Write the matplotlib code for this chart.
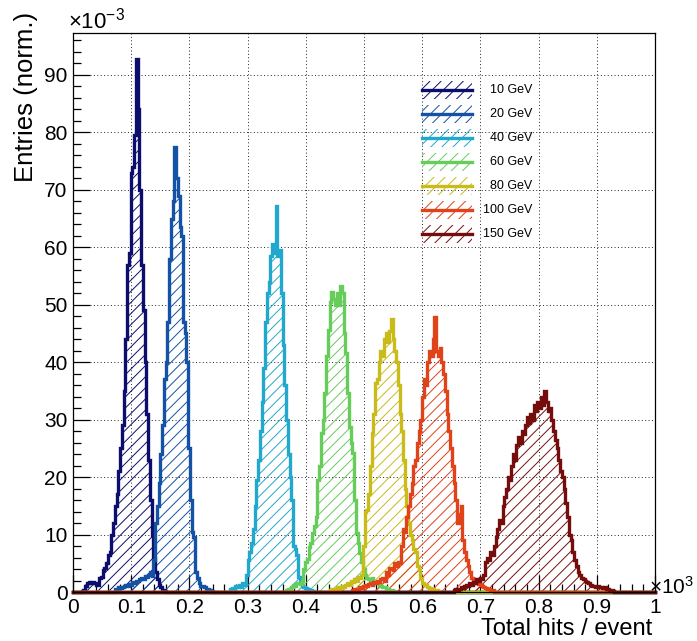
import numpy as np
import matplotlib
matplotlib.use("Agg")
import matplotlib.pyplot as plt
from matplotlib.patches import Rectangle
from matplotlib.lines import Line2D

plt.rcParams['font.family'] = ['Liberation Sans', 'DejaVu Sans']
plt.rcParams['mathtext.fontset'] = 'custom'
plt.rcParams['mathtext.rm'] = 'Liberation Sans'
plt.rcParams['mathtext.it'] = 'Liberation Sans:italic'
plt.rcParams['hatch.linewidth'] = 0.7

# ---- histogram data (x in units of 10^3 hits, y in units of 10^-3) ----
bin_width = 0.003

labels = ["10 GeV", "20 GeV", "40 GeV", "60 GeV", "80 GeV", "100 GeV", "150 GeV"]
colors = ["#0d0d6b", "#1452a6", "#22a8cc", "#66cc5a", "#c9bb1a", "#e0421a", "#750d0d"]

first_edge = [0.015, 0.072, 0.270, 0.366, 0.441, 0.480, 0.654]

h10 = [0.2, 0.4, 1.0, 1.5, 1.7, 1.6, 1.8, 1.5, 1.2, 1.2,
       2.4, 2.6, 3.8, 4.2, 5.0, 6.5, 7.0, 10, 12, 15,
       17, 21, 25, 29, 35, 44, 57, 59, 73, 74,
       79.5, 92.7, 84, 70, 57, 49, 40, 31, 23, 16,
       10, 6, 3.5, 2.2, 1.3, 0.8, 0.4, 0.2]
h20 = [0.5, 0.6, 0.8, 0.7, 0.9, 1.0, 1.2, 1.1, 1.4, 1.3,
       1.8, 1.6, 2.0, 1.9, 2.2, 2.4, 2.2, 2.8, 2.6, 3.0,
       3.4, 2.8, 5.5, 12, 15, 19, 24, 29, 37, 40,
       47, 58, 65, 68, 77.5, 72, 69, 63.5, 62, 47,
       45, 40, 25, 16, 10.5, 9.5, 3.5, 2.4, 1.6, 1.0,
       1.0, 0.8, 0.6, 0.5, 0.3, 0.2]
h40 = [0.5, 0.7, 0.6, 1.0, 0.8, 1.2, 0.9, 1.5, 1.3, 3.0,
       5.5, 7.0, 8.5, 11, 15, 19.5, 23, 28, 33, 39,
       47, 52, 54, 58.5, 60.5, 59, 67.2, 58.5, 59.5, 52,
       43, 36, 30, 24, 20, 16, 8, 7.5, 6.5, 2.6,
       1.5, 1.0, 0.9, 0.7, 0.6, 0.4, 0.3, 0.2]
h60 = [0.4, 0.6, 0.5, 0.9, 1.2, 1.0, 1.5, 1.6, 1.4, 2.0,
       4.0, 5.2, 5.8, 7.9, 8.5, 10.3, 11.5, 13, 19.5, 22,
       27.7, 30, 34.6, 41, 45.6, 50.5, 52.3, 51, 50, 52,
       50, 53.3, 52, 45, 41.6, 34.6, 28.7, 26, 24.2, 16,
       10.3, 8.5, 6.8, 5.2, 4.0, 3.0, 2.5, 2.2, 2.0, 2.4,
       1.8, 1.5, 1.6, 1.2, 1.0, 0.9, 0.8, 0.6, 0.5, 0.4, 0.3, 0.2]
h80 = [0.3, 0.5, 0.4, 0.6, 0.8, 0.6, 0.9, 1.0, 0.8, 1.2,
       1.5, 1.3, 2.0, 1.8, 2.3, 2.0, 2.6, 2.4, 3.0, 8,
       14, 14.3, 17, 22, 27.7, 31, 36.4, 37, 40, 42,
       41, 44, 45, 43.5, 45.5, 47.5, 44, 42, 40, 36,
       31, 28, 23, 18, 15, 12, 10, 9, 7.5, 7,
       4.5, 3.8, 2.5, 1.5, 1.3, 1.2, 0.9, 0.7, 0.6, 0.5, 0.4, 0.3]
h100 = [0.3, 0.5, 0.6, 0.5, 0.8, 0.7, 1.0, 1.2, 1.0, 1.4,
        1.6, 1.3, 1.8, 1.5, 2.0, 1.8, 2.2, 2.4, 2.0, 3.5,
        3.0, 4.2, 4.0, 3.8, 5.0, 4.6, 5.2, 5.0, 8, 11,
        10.5, 13, 15, 17, 19, 22, 23, 26, 28, 30,
        34, 37, 36, 40, 42, 41, 44, 47.8, 42, 41,
        42.5, 40, 38, 35, 31, 28, 25, 22, 19, 16,
        12, 13.5, 15, 9, 7, 5.5, 4.5, 3.5, 2.5, 2.2,
        1.8, 1.6, 1.4, 1.2, 1.0, 0.9, 0.7, 0.6, 0.5, 0.4, 0.3]
h150 = [0.3, 0.5, 0.4, 0.6, 0.8, 0.7, 1.0, 1.2, 1.0, 1.5,
        1.3, 1.8, 1.6, 2.2, 2.0, 2.4, 2.2, 3.0, 5.3, 6.0,
        5.5, 7.0, 6.5, 8.0, 9.5, 11, 12.5, 12, 15, 16.5,
        18, 20, 19.5, 22, 24, 23, 25.5, 27, 26, 28,
        27.5, 29, 30.5, 29.5, 31, 30, 32.5, 31.5, 33, 32,
        34, 32.5, 35, 33, 31.5, 32, 30, 28, 26.5, 25,
        23, 21, 20, 18, 15.5, 13, 10, 9, 7, 5.5,
        4.5, 3.5, 3.0, 2.5, 2.2, 2.0, 1.8, 1.5, 1.2, 1.0,
        1.1, 0.9, 1.0, 0.8, 0.9, 0.7, 0.8, 0.6, 0.5, 0.4, 0.3, 0.2]
series = [h10, h20, h40, h60, h80, h100, h150]

x_ticks = [0, 0.1, 0.2, 0.3, 0.4, 0.5, 0.6, 0.7, 0.8, 0.9, 1]
x_tick_labels = ["0", "0.1", "0.2", "0.3", "0.4", "0.5", "0.6", "0.7", "0.8", "0.9", "1"]
y_ticks = [0, 10, 20, 30, 40, 50, 60, 70, 80, 90]

# ---- figure ----
W, H = 697, 641
fig = plt.figure(figsize=(W / 100, H / 100), dpi=100)
L, R, T, B = 73, 655, 33, 592
ax = fig.add_axes([L / W, 1 - B / H, (R - L) / W, (B - T) / H])

n_bins = 333
edges = np.append(np.arange(n_bins) * bin_width, 1.0)

for vals, start, col in zip(series, first_edge, colors):
    counts = np.zeros(n_bins)
    i0 = int(round(start / bin_width))
    counts[i0:i0 + len(vals)] = vals
    xs = np.repeat(edges, 2)[1:-1]
    ys = np.repeat(counts, 2)
    ax.fill_between(xs, ys, 0, facecolor="none", edgecolor=col,
                    hatch="///", linewidth=0, zorder=2)
    ax.plot(xs, ys, color=col, lw=2.4, solid_joinstyle="miter",
            clip_on=False, zorder=3)

ax.set_xlim(0, 1)
ax.set_ylim(0, 97.3)
ax.set_xticks(x_ticks)
ax.set_xticklabels(x_tick_labels)
ax.set_yticks(y_ticks)
ax.xaxis.set_minor_locator(matplotlib.ticker.MultipleLocator(0.02))
ax.yaxis.set_minor_locator(matplotlib.ticker.MultipleLocator(2))
ax.tick_params(which="both", direction="in", top=False, right=False,
               labelsize=15, width=0.9, color="black", pad=4)
ax.tick_params(which="major", length=12)
ax.tick_params(which="minor", length=6)
ax.grid(True, which="major", color="#222222", lw=0.7, linestyle=(0, (1, 2.5)), zorder=1)
for sp in ax.spines.values():
    sp.set_linewidth(0.9)
    sp.set_zorder(4)

fig.text(652 / W, 1 - 635 / H, "Total hits / event", fontsize=17,
         ha="right", va="baseline")
fig.text(26 / W, 1 - 12 / H, "Entries (norm.)", fontsize=18.5, rotation=90,
         ha="center", va="top")

fig.text(68 / W, 1 - 28 / H, r"$\times10^{-3}$", fontsize=16, ha="left", va="baseline")
fig.text(649 / W, 1 - 594 / H, r"$\times10^{3}$", fontsize=15, ha="left", va="baseline")

# ---- legend ----
box_x0, box_w, box_h = 422, 50, 18
text_right = 532
for i, (lab, col) in enumerate(zip(labels, colors)):
    yc = 90 + 24 * i
    rect = Rectangle((box_x0 / W, 1 - (yc + box_h / 2) / H), box_w / W, box_h / H,
                     transform=fig.transFigure, facecolor="none", edgecolor=col,
                     hatch="///", linewidth=0)
    fig.add_artist(rect)
    fig.add_artist(Line2D([box_x0 / W, (box_x0 + box_w) / W], [1 - yc / H, 1 - yc / H],
                          transform=fig.transFigure, color=col, lw=2.4))
    fig.text(text_right / W, 1 - yc / H, lab, fontsize=9, ha="right", va="center")

fig.savefig("out.png", dpi=100)
